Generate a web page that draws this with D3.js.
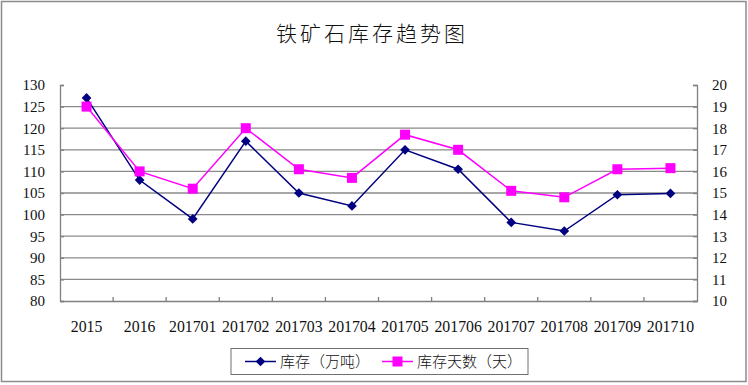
<!DOCTYPE html>
<html>
<head>
<meta charset="utf-8">
<script src="https://cdn.jsdelivr.net/npm/d3@7"></script>
<style>
  body { margin: 0; background: #fff; }
  svg { display: block; }
</style>
</head>
<body>
<svg id="chart" width="748" height="385"></svg>
<script>
// chart data
const categories = ["2015", "2016", "201701", "201702", "201703", "201704",
                    "201705", "201706", "201707", "201708", "201709", "201710"];
const stock = [127, 108, 99, 117, 105, 102, 115, 110.5, 98.2, 96.2, 104.6, 104.9];
const stockDays = [19, 16, 15.2, 18, 16.1, 15.7, 17.7, 17, 15.1, 14.8, 16.1, 16.15];
const leftTicks = [80, 85, 90, 95, 100, 105, 110, 115, 120, 125, 130];
const rightTicks = [10, 11, 12, 13, 14, 15, 16, 17, 18, 19, 20];

const svg = d3.select("#chart");
const plotLeft = 60, plotRight = 697, plotTop = 85, plotBottom = 301;

// outer frame
svg.append("rect")
    .attr("x", 1.5).attr("y", 1.5)
    .attr("width", 744.5).attr("height", 380)
    .attr("fill", "#fff")
    .attr("stroke", "#8c8c8c")
    .attr("stroke-width", 1.5);

svg.append("text")
    .attr("x", 372).attr("y", 41)
    .attr("text-anchor", "middle")
    .attr("font-family", "'Noto Sans CJK SC', sans-serif")
    .attr("font-size", 21)
    .attr("font-weight", 300)
    .attr("letter-spacing", 3)
    .attr("fill", "#111")
    .text("铁矿石库存趋势图");

const x = d3.scaleBand().domain(categories).range([plotLeft, plotRight]);
const yL = d3.scaleLinear().domain([80, 130]).range([plotBottom, plotTop]);
const yR = d3.scaleLinear().domain([10, 20]).range([plotBottom, plotTop]);

// gridlines
svg.append("g")
    .selectAll("line")
    .data(leftTicks.slice(1, -1))
    .enter().append("line")
    .attr("x1", plotLeft).attr("x2", plotRight)
    .attr("y1", d => yL(d)).attr("y2", d => yL(d))
    .attr("stroke", "#8a8a8a")
    .attr("stroke-width", 1.3);

const axisColor = "#808080";
const tickFont = "'Liberation Serif', 'Times New Roman', serif";

// left axis (ticks inside)
const gL = svg.append("g")
    .attr("transform", `translate(${plotLeft},0)`)
    .call(d3.axisLeft(yL).tickValues(leftTicks).tickSize(-4).tickPadding(15));
// right axis
const gR = svg.append("g")
    .attr("transform", `translate(${plotRight},0)`)
    .call(d3.axisRight(yR).tickValues(rightTicks).tickSize(-4).tickPadding(15));
// bottom axis, ticks at category boundaries
const gB = svg.append("g")
    .attr("transform", `translate(0,${plotBottom})`)
    .call(d3.axisBottom(x).tickSize(0).tickPadding(20));

[gL, gR, gB].forEach(g => {
    g.select(".domain").attr("stroke", axisColor).attr("stroke-width", 1.3);
    g.selectAll(".tick line").attr("stroke", axisColor).attr("stroke-width", 1.3);
    g.selectAll("text")
        .attr("font-family", tickFont)
        .attr("font-size", 15)
        .attr("fill", "#111");
});
gB.selectAll("text").attr("font-size", 15.8);
gL.selectAll("text").attr("x", -15);
gR.selectAll("text").attr("x", 15);

svg.append("g")
    .selectAll("line")
    .data(categories.slice(1))
    .enter().append("line")
    .attr("x1", d => x(d)).attr("x2", d => x(d))
    .attr("y1", plotBottom).attr("y2", plotBottom - 4)
    .attr("stroke", axisColor)
    .attr("stroke-width", 1.3);

const cx = d => x(d) + x.bandwidth() / 2;

// stock line (left axis)
const lineL = d3.line().x((d, i) => cx(categories[i])).y(d => yL(d));
svg.append("path")
    .datum(stock)
    .attr("d", lineL)
    .attr("fill", "none")
    .attr("stroke", "#000080")
    .attr("stroke-width", 1.5);

// stock days line (right axis)
const lineR = d3.line().x((d, i) => cx(categories[i])).y(d => yR(d));
svg.append("path")
    .datum(stockDays)
    .attr("d", lineR)
    .attr("fill", "none")
    .attr("stroke", "#ff00ff")
    .attr("stroke-width", 1.5);

const diamond = d3.symbol().type(d3.symbolDiamond2).size(60);
const square = d3.symbol().type(d3.symbolSquare).size(100);

svg.append("g")
    .selectAll("path")
    .data(stock)
    .enter().append("path")
    .attr("d", diamond)
    .attr("transform", (d, i) => `translate(${cx(categories[i])},${yL(d)})`)
    .attr("fill", "#000080");

svg.append("g")
    .selectAll("path")
    .data(stockDays)
    .enter().append("path")
    .attr("d", square)
    .attr("transform", (d, i) => `translate(${cx(categories[i])},${yR(d)})`)
    .attr("fill", "#ff00ff");

// legend
const legend = svg.append("g");
legend.append("rect")
    .attr("x", 231).attr("y", 348.5)
    .attr("width", 297).attr("height", 26)
    .attr("fill", "#fff")
    .attr("stroke", "#707070")
    .attr("stroke-width", 1);

const legendItems = [
    { label: "库存（万吨）", color: "#000080", symbol: diamond, x: 245 },
    { label: "库存天数（天）", color: "#ff00ff", symbol: square, x: 382 }
];
const ly = 361.5;
legendItems.forEach(it => {
    legend.append("line")
        .attr("x1", it.x).attr("x2", it.x + 31)
        .attr("y1", ly).attr("y2", ly)
        .attr("stroke", it.color).attr("stroke-width", 1.5);
    legend.append("path")
        .attr("d", it.symbol)
        .attr("transform", `translate(${it.x + 15.5},${ly})`)
        .attr("fill", it.color);
    legend.append("text")
        .attr("x", it.x + 35).attr("y", ly + 5.5)
        .attr("font-family", "'Noto Sans CJK SC', sans-serif")
        .attr("font-size", 15)
        .attr("font-weight", 300)
        .attr("fill", "#111")
        .text(it.label);
});
</script>
</body>
</html>
